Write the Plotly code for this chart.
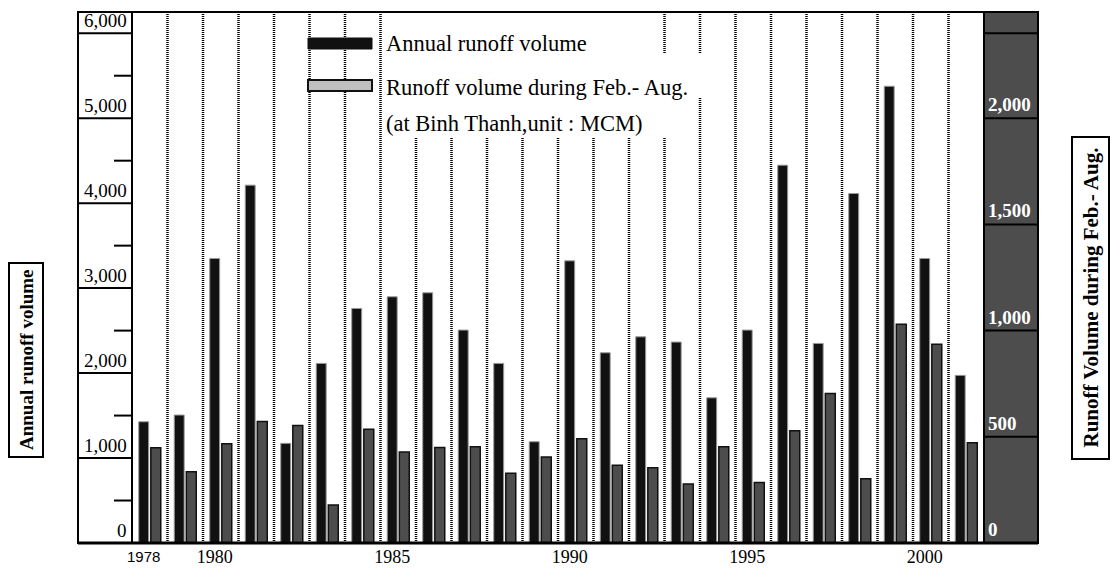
import plotly.graph_objects as go

years = list(range(1978, 2002))
annual_runoff = [1427, 1506, 3349, 4212, 1173, 2114, 2761, 2898, 2945, 2506, 2114, 1192,
                 3321, 2239, 2427, 2365, 1709, 2506, 4447, 2349, 4114, 5376, 3349, 1973]
feb_aug_runoff = [448, 335, 467, 572, 553, 179, 535, 428, 450, 453, 328, 405,
                  491, 366, 354, 278, 453, 285, 528, 704, 302, 1030, 936, 472]
x_tick_years = [1980, 1985, 1990, 1995, 2000]
x_tick_text = ["1980", "1985", "1990", "1995", "2000"]
left_ticks = [0, 1000, 2000, 3000, 4000, 5000, 6000]
left_tick_text = ["0", "1,000", "2,000", "3,000", "4,000", "5,000", "6,000"]
left_minor = [500, 1500, 2500, 3500, 4500, 5500]
right_ticks = [0, 500, 1000, 1500, 2000]
right_tick_text = ["0", "500", "1,000", "1,500", "2,000"]

W, H = 1112, 574
L, R, T, B = 132, 984, 12, 543


def px(x):
    return (x - L) / (R - L)


def py(y):
    return (B - y) / (B - T)


SERIF = "Liberation Serif"
fig = go.Figure()
fig.add_trace(go.Bar(x=years, y=annual_runoff, width=0.28, offset=-0.31,
                     marker=dict(color="#111111", line=dict(color="#9a9a9a", width=1)),
                     name="Annual runoff volume", yaxis="y"))
fig.add_trace(go.Bar(x=years, y=feb_aug_runoff, width=0.28, offset=0.03,
                     marker=dict(color="#4d4d4d", line=dict(color="#111111", width=1.5)),
                     name="Runoff volume during Feb.- Aug.", yaxis="y2"))

shapes = []
# dotted separators
for yr in years[:-1]:
    shapes.append(dict(type="line", xref="x", yref="paper", x0=yr + 0.5, x1=yr + 0.5,
                       y0=0, y1=1, layer="below",
                       line=dict(color="black", width=2.5, dash="1px,1px")))
# white boxes behind legend text
for (x0, x1, y0, y1) in [(383, 652, 12, 138), (652, 706, 53, 97), (652, 682, 97, 138)]:
    shapes.append(dict(type="rect", xref="paper", yref="paper", x0=px(x0), x1=px(x1),
                       y0=py(y1), y1=py(y0), fillcolor="white", line=dict(width=0)))
# legend symbols
shapes.append(dict(type="rect", xref="paper", yref="paper", x0=px(308), x1=px(372),
                   y0=py(49), y1=py(38), fillcolor="#111111", line=dict(color="#111111", width=1)))
shapes.append(dict(type="rect", xref="paper", yref="paper", x0=px(308), x1=px(372),
                   y0=py(91), y1=py(80), fillcolor="#c0c0c0", line=dict(color="#111111", width=2)))
# right panel
shapes.append(dict(type="rect", xref="paper", yref="paper", x0=1, x1=px(1038), y0=0, y1=1,
                   fillcolor="#4d4d4d", line=dict(color="black", width=2)))
for v in right_ticks[1:]:
    shapes.append(dict(type="line", xref="paper", yref="y2", x0=1, x1=px(1038), y0=v, y1=v,
                       line=dict(color="black", width=2)))
shapes.append(dict(type="line", xref="paper", yref="y", x0=1, x1=px(1038), y0=6000, y1=6000,
                   line=dict(color="black", width=2)))
# left panel
for v in left_ticks[1:]:
    shapes.append(dict(type="line", xref="paper", yref="y", x0=px(78), x1=0, y0=v, y1=v,
                       line=dict(color="black", width=2)))
for v in left_minor:
    shapes.append(dict(type="line", xref="paper", yref="y", x0=px(114), x1=0, y0=v, y1=v,
                       line=dict(color="black", width=2)))
# frame
shapes.append(dict(type="rect", xref="paper", yref="paper", x0=px(78), x1=px(1038), y0=0, y1=1,
                   line=dict(color="black", width=2)))
shapes.append(dict(type="line", xref="paper", yref="paper", x0=0, x1=0, y0=0, y1=1,
                   line=dict(color="black", width=2)))
shapes.append(dict(type="line", xref="paper", yref="paper", x0=px(78), x1=px(1038), y0=0, y1=0,
                   line=dict(color="black", width=3)))
# title boxes
shapes.append(dict(type="rect", xref="paper", yref="paper", x0=px(9), x1=px(43),
                   y0=py(457), y1=py(263), line=dict(color="black", width=2)))
shapes.append(dict(type="rect", xref="paper", yref="paper", x0=px(1072), x1=px(1109),
                   y0=py(459), y1=py(137), line=dict(color="black", width=2)))

ann = []
for v, t in zip(left_ticks, left_tick_text):
    ann.append(dict(xref="paper", yref="y", x=px(129), y=v, text=t, showarrow=False,
                    xanchor="right", yanchor="bottom", yshift=0,
                    font=dict(family=SERIF, size=19, color="black")))
for v, t in zip(right_ticks, right_tick_text):
    ann.append(dict(xref="paper", yref="y2", x=px(986), y=v, text="<b>" + t + "</b>",
                    showarrow=False, xanchor="left", yanchor="bottom", yshift=1,
                    font=dict(family=SERIF, size=19, color="white")))
ann.append(dict(xref="x", yref="paper", x=years[0] - 0.17, y=py(546), text=str(years[0]),
                showarrow=False, xanchor="center", yanchor="top",
                font=dict(family="Liberation Sans", size=15, color="black")))
for txt, yy in [("Annual runoff volume", 43), ("Runoff volume during Feb.- Aug.", 87),
                ("(at Binh Thanh,unit : MCM)", 124)]:
    ann.append(dict(xref="paper", yref="paper", x=px(384), y=py(yy), text=txt, showarrow=False,
                    xanchor="left", yanchor="middle",
                    font=dict(family=SERIF, size=22.5, color="black")))
ann.append(dict(xref="paper", yref="paper", x=px(26), y=py(360), text="<b>Annual runoff volume</b>",
                showarrow=False, textangle=-90, xanchor="center", yanchor="middle",
                font=dict(family=SERIF, size=19, color="black")))
ann.append(dict(xref="paper", yref="paper", x=px(1090.5), y=py(298),
                text="<b>Runoff Volume during Feb.- Aug.</b>",
                showarrow=False, textangle=-90, xanchor="center", yanchor="middle",
                font=dict(family=SERIF, size=21, color="black")))

fig.update_layout(
    width=W, height=H,
    margin=dict(l=L, r=W - R, t=T, b=H - B, pad=0, autoexpand=False),
    paper_bgcolor="white", plot_bgcolor="white",
    barmode="overlay", showlegend=False,
    xaxis=dict(range=[1977.5, 2001.5], tickvals=[y - 0.17 for y in x_tick_years],
               ticktext=x_tick_text, ticks="", showgrid=False, zeroline=False, showline=False,
               automargin=False, ticklabelstandoff=1,
               tickfont=dict(family=SERIF, size=18, color="black")),
    yaxis=dict(range=[0, 6250], showgrid=False, zeroline=False, showticklabels=False,
               showline=False, ticks="", automargin=False),
    yaxis2=dict(range=[0, 2500], overlaying="y", side="right", showgrid=False, zeroline=False,
                showticklabels=False, showline=False, ticks="", automargin=False),
    shapes=shapes, annotations=ann,
)
fig.write_html("out.html")
